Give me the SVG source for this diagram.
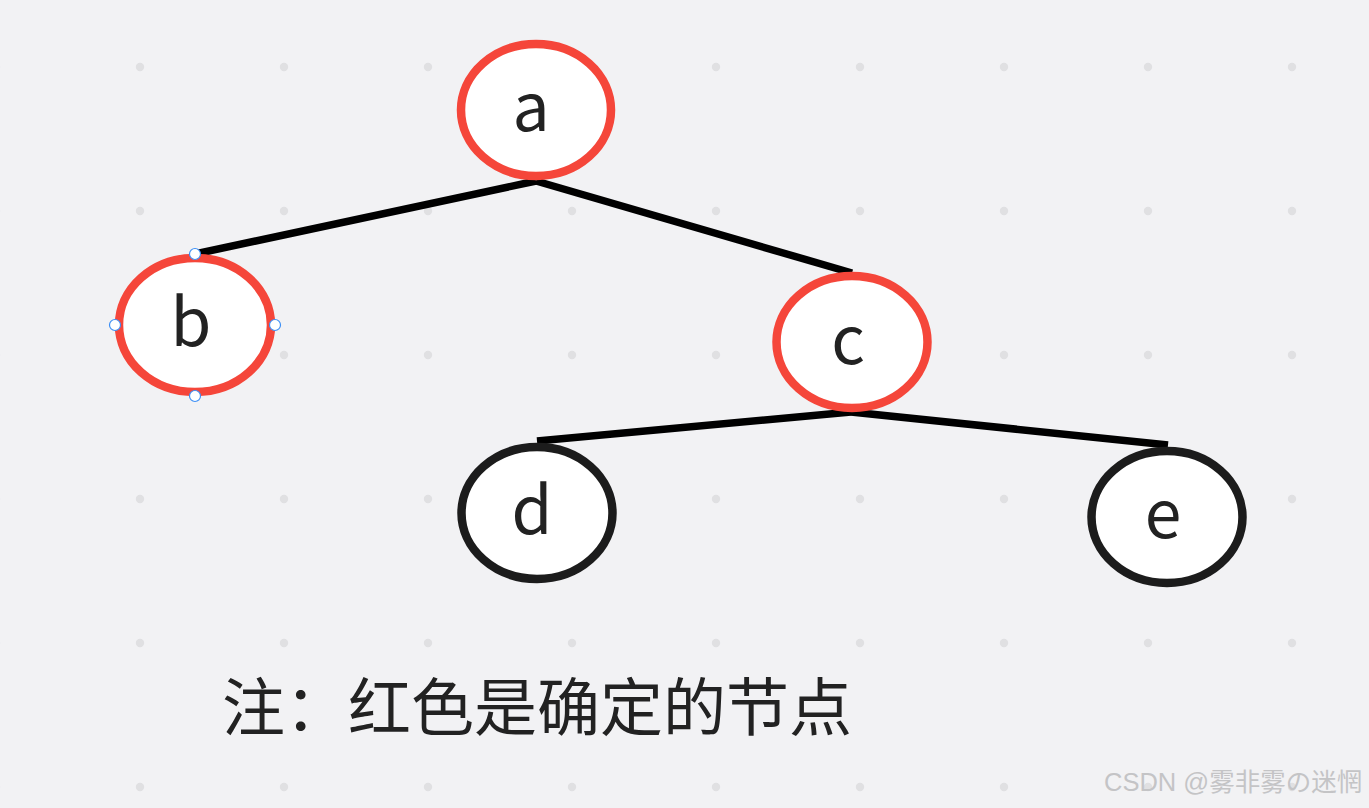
<svg xmlns="http://www.w3.org/2000/svg" width="1369" height="808" viewBox="0 0 1369 808">
<defs>
<style>
.node{fill:#ffffff;stroke-width:8.5}
.red{stroke:#f5463a}
.black{stroke:#1c1c1c}
.lbl{font-family:"Noto Sans CJK SC","Noto Sans",sans-serif;font-size:66px;fill:#222222;text-anchor:middle}
.edge{stroke:#000000;stroke-width:7.5;fill:none}
.handle{fill:#ffffff;stroke:#3d8ff5;stroke-width:1.2}
</style>
<pattern id="dots" x="-4" y="67" width="144" height="144" patternUnits="userSpaceOnUse">
<circle cx="0" cy="0" r="4.2" fill="#e0e0e2"/>
<circle cx="144" cy="0" r="4.2" fill="#e0e0e2"/>
<circle cx="0" cy="144" r="4.2" fill="#e0e0e2"/>
<circle cx="144" cy="144" r="4.2" fill="#e0e0e2"/>
</pattern>
</defs>
<rect width="1369" height="808" fill="#f2f2f4"/>
<rect width="1369" height="808" fill="url(#dots)"/>
<g id="connectors">
<line class="edge" x1="536" y1="181" x2="195" y2="254"/>
<line class="edge" x1="536" y1="181" x2="852" y2="273"/>
<line class="edge" x1="851" y1="412" x2="537" y2="441"/>
<line class="edge" x1="851" y1="412" x2="1168" y2="445"/>
</g>
<g id="node-a">
<ellipse class="node red" cx="536" cy="110" rx="75" ry="66"/>
<text class="lbl" x="531" y="131">a</text>
</g>
<g id="node-b">
<ellipse class="node red" cx="195" cy="325" rx="76" ry="67"/>
<text class="lbl" x="191" y="346">b</text>
<circle class="handle" cx="195" cy="254" r="5.5"/>
<circle class="handle" cx="115" cy="325" r="5.5"/>
<circle class="handle" cx="275" cy="325" r="5.5"/>
<circle class="handle" cx="195" cy="396" r="5.5"/>
</g>
<g id="node-c">
<ellipse class="node red" cx="852" cy="342" rx="75.5" ry="66"/>
<text class="lbl" x="848" y="364">c</text>
</g>
<g id="node-d">
<ellipse class="node black" cx="537" cy="513" rx="75.5" ry="66"/>
<text class="lbl" x="532" y="534">d</text>
</g>
<g id="node-e">
<ellipse class="node black" cx="1167" cy="517" rx="75.5" ry="66"/>
<text class="lbl" x="1163" y="538">e</text>
</g>
<text x="222" y="730" font-family="'Noto Sans CJK SC',sans-serif" font-size="63" fill="#222222">注：红色是确定的节点</text>
<text x="1104" y="791" font-family="'Liberation Sans','Noto Sans CJK SC',sans-serif" font-size="25.5" fill="#c4c4c6">CSDN @雾非雾の迷惘</text>
</svg>
